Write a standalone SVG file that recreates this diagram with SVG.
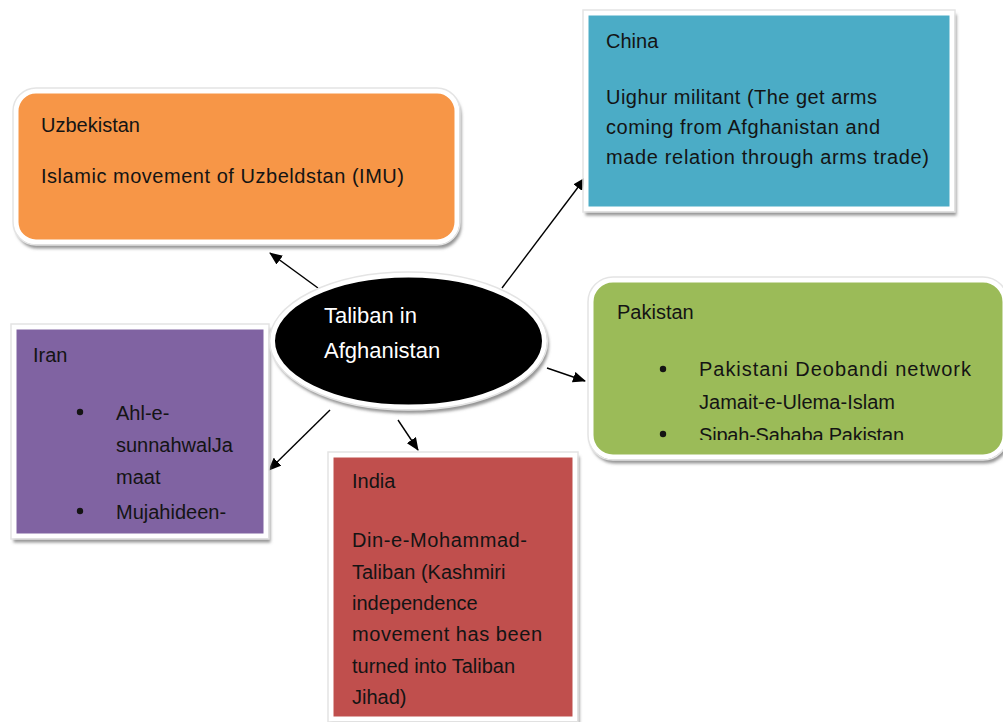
<svg xmlns="http://www.w3.org/2000/svg" width="1003" height="722" viewBox="0 0 1003 722">
<style>
.t{font-family:"Liberation Sans",Arial,sans-serif;font-size:20px;fill:#141414}
.c{font-family:"Liberation Sans",Arial,sans-serif;font-size:22px;fill:#ffffff}
.box{stroke:#ffffff;stroke-width:5;filter:url(#sh)}
.rim{fill:none;stroke:#e4e4e4;stroke-width:1.5}
.edge{stroke:#000;stroke-width:1.4;fill:none;marker-end:url(#ah)}
</style>
<defs>
<filter id="sh" x="-10%" y="-10%" width="120%" height="125%">
<feDropShadow dx="2" dy="4" stdDeviation="1.6" flood-color="#7a7a7a" flood-opacity="0.8"/>
</filter>
<marker id="ah" markerWidth="13" markerHeight="11" refX="12" refY="5.5" orient="auto" markerUnits="userSpaceOnUse">
<path d="M0,0 L13,5.5 L0,11 Z" fill="#000"/>
</marker>
<clipPath id="pkclip"><rect x="592" y="280" width="411" height="160"/></clipPath>
</defs>
<rect width="1003" height="722" fill="#ffffff"/>
<g id="connectors">
<line class="edge" x1="318" y1="288" x2="270" y2="253"/>
<line class="edge" x1="502" y1="288" x2="585" y2="178"/>
<line class="edge" x1="547" y1="368" x2="585" y2="381"/>
<line class="edge" x1="330" y1="410" x2="269" y2="470"/>
<line class="edge" x1="398" y1="420" x2="418" y2="450"/>
</g>
<g id="uzbekistan">
<rect class="box" x="16" y="91" width="441" height="151" rx="20" fill="#F79646"/>
<rect class="rim" x="13" y="88" width="447" height="157" rx="23"/>
<text class="t" x="41" y="132">Uzbekistan</text>
<text class="t" x="41" y="183" textLength="363" lengthAdjust="spacing">Islamic movement of Uzbeldstan (IMU)</text>
</g>
<g id="china">
<rect class="box" x="586" y="13" width="366" height="196" fill="#4BACC6"/>
<rect class="rim" x="583" y="10" width="372" height="202"/>
<text class="t" x="606" y="48">China</text>
<text class="t" x="606" y="104" textLength="271" lengthAdjust="spacing">Uighur militant (The get arms</text>
<text class="t" x="606" y="134" textLength="274" lengthAdjust="spacing">coming from Afghanistan and</text>
<text class="t" x="606" y="164" textLength="323" lengthAdjust="spacing">made relation through arms trade)</text>
</g>
<g id="pakistan">
<rect class="box" x="591" y="280" width="414" height="177" rx="22" fill="#9BBB59"/>
<rect class="rim" x="588" y="277" width="420" height="183" rx="25"/>
<text class="t" x="617" y="319">Pakistan</text>
<circle cx="663" cy="369" r="3.2" fill="#141414"/>
<text class="t" x="699" y="376" textLength="272" lengthAdjust="spacing">Pakistani Deobandi network</text>
<text class="t" x="699" y="409" textLength="196" lengthAdjust="spacing">Jamait-e-Ulema-Islam</text>
<g clip-path="url(#pkclip)">
<circle cx="663" cy="434" r="3.2" fill="#141414"/>
<text class="t" x="699" y="442" textLength="205" lengthAdjust="spacing">Sipah-Sahaba Pakistan</text>
</g>
</g>
<g id="iran">
<rect class="box" x="14" y="327" width="252" height="209" fill="#8064A2"/>
<rect class="rim" x="11" y="324" width="258" height="215"/>
<text class="t" x="33" y="362">Iran</text>
<circle cx="80" cy="412" r="3.2" fill="#141414"/>
<text class="t" x="116" y="420">Ahl-e-</text>
<text class="t" x="116" y="452">sunnahwalJa</text>
<text class="t" x="116" y="484">maat</text>
<circle cx="80" cy="511" r="3.2" fill="#141414"/>
<text class="t" x="116" y="519">Mujahideen-</text>
</g>
<g id="india">
<rect class="box" x="331" y="455" width="244" height="264" fill="#C0504D"/>
<rect class="rim" x="328" y="452" width="250" height="270"/>
<text class="t" x="352" y="488">India</text>
<text class="t" x="352" y="547" textLength="175" lengthAdjust="spacing">Din-e-Mohammad-</text>
<text class="t" x="352" y="579">Taliban (Kashmiri</text>
<text class="t" x="352" y="610">independence</text>
<text class="t" x="352" y="641" textLength="190" lengthAdjust="spacing">movement has been</text>
<text class="t" x="352" y="673">turned into Taliban</text>
<text class="t" x="352" y="704">Jihad)</text>
</g>
<g id="taliban">
<ellipse cx="408.5" cy="341" rx="136" ry="66" fill="#000" stroke="#ffffff" stroke-width="5" filter="url(#sh)"/>
<ellipse cx="408.5" cy="341" rx="139" ry="69" class="rim"/>
<text class="c" x="324" y="323">Taliban in</text>
<text class="c" x="324" y="358">Afghanistan</text>
</g>
</svg>
